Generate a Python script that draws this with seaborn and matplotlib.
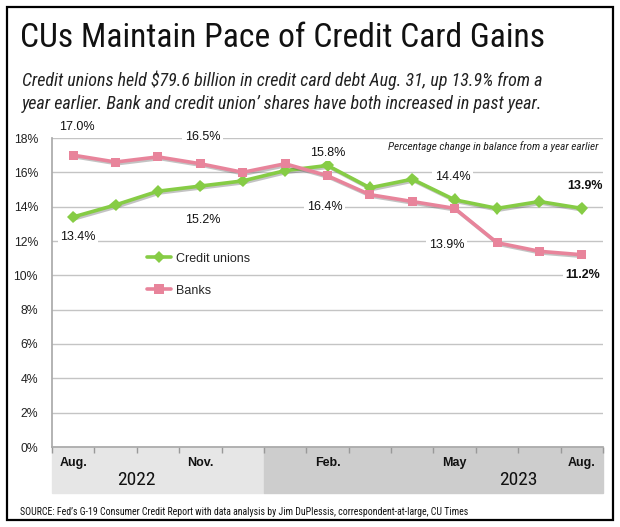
import pandas as pd
import matplotlib.pyplot as plt
import matplotlib.patheffects as pe
from matplotlib import font_manager
from matplotlib.patches import Rectangle
import seaborn as sns

# monthly data, Aug 2022 .. Aug 2023 (% change from a year earlier)
months = ["Aug.", "Sep.", "Oct.", "Nov.", "Dec.", "Jan.", "Feb.", "Mar.",
          "Apr.", "May", "Jun.", "Jul.", "Aug."]
years = ["2022"] * 5 + ["2023"] * 8
credit_unions = [13.4, 14.1, 14.9, 15.2, 15.5, 16.1, 16.4, 15.1, 15.6, 14.4, 13.9, 14.3, 13.9]
banks = [17.0, 16.6, 16.9, 16.5, 16.0, 16.5, 15.8, 14.7, 14.3, 13.9, 11.9, 11.4, 11.2]
shown_ticks = [0, 3, 6, 9, 12]

# labels shown on chart: (series, month index)
labelled = [("Banks", 0), ("Banks", 3), ("Credit unions", 0), ("Credit unions", 3),
            ("Banks", 6), ("Credit unions", 6), ("Credit unions", 9), ("Banks", 9),
            ("Credit unions", 12), ("Banks", 12)]
label_offsets = [(4, 28), (2, 27), (5, -20), (2, -34), (0, 23), (-3, -42),
                 (-2, 23), (-8, -37), (3, 22), (1, -20)]

GREEN = "#86cc45"
PINK = "#e8849b"

sns.set_theme(style="white")
plt.rcParams["font.family"] = ["Liberation Sans", "DejaVu Sans"]

# pick a narrow face if one is installed
names = {f.name for f in font_manager.fontManager.ttflist}
narrow_fam = None
for cand in ["Liberation Sans Narrow", "Roboto Condensed", "Open Sans Condensed",
             "Noto Sans Condensed", "DejaVu Sans Condensed", "Arial Narrow"]:
    if cand in names:
        narrow_fam = cand
        break
narrow = dict(family=[narrow_fam or "Liberation Sans", "DejaVu Sans"], stretch="condensed")

n = len(months)
df = pd.DataFrame({
    "idx": list(range(n)) * 2,
    "value": credit_unions + banks,
    "series": ["Credit unions"] * n + ["Banks"] * n,
})
values = {"Credit unions": credit_unions, "Banks": banks}

W, H = 620, 527
fig = plt.figure(figsize=(W / 100, H / 100), dpi=100)
ax = fig.add_axes([52 / W, (H - 447) / H, (603 - 52) / W, (447 - 138) / H])

shadow = [pe.SimpleLineShadow(offset=(1.2, -1.2), shadow_color="#555555", alpha=0.35), pe.Normal()]
sns.lineplot(data=df, x="idx", y="value", hue="series", style="series",
             palette={"Credit unions": GREEN, "Banks": PINK},
             markers={"Credit unions": "D", "Banks": "s"}, dashes=False,
             markersize=6.5, markeredgewidth=0, linewidth=2.6, ax=ax, zorder=3)
for line in ax.lines:
    line.set_path_effects(shadow)

ax.set_xlim(-0.5, n - 0.5)
ax.set_ylim(0, 18)
ax.set_yticks(range(0, 19, 2))
ax.set_yticklabels([f"{v}%" for v in range(0, 19, 2)], fontsize=8.8)
ax.yaxis.grid(True, color="#c4c4c4", linewidth=1)
ax.set_axisbelow(True)
ax.set_xticks(shown_ticks)
ax.set_xticklabels([months[i] for i in shown_ticks], fontsize=9, fontweight="bold")
ax.set_xticks([i - 0.5 for i in range(n + 1)], minor=True)
ax.tick_params(axis="y", length=0, pad=10, colors="#222222")
ax.tick_params(axis="x", which="major", length=0, pad=7, colors="#111111")
ax.tick_params(axis="x", which="minor", length=4, width=1, color="#999999", direction="out", bottom=True)
for s in ["top", "right"]:
    ax.spines[s].set_visible(False)
ax.spines["left"].set_color("#aaaaaa")
ax.spines["bottom"].set_color("#aaaaaa")
ax.set_xlabel("")
ax.set_ylabel("")

# year bands under the axis
tr = ax.get_xaxis_transform()
band_h = (493 - 447) / (447 - 138)
first_2023 = years.index("2023")
ax.add_patch(Rectangle((-0.5, -band_h), first_2023, band_h, transform=tr,
                       color="#e6e6e6", clip_on=False, zorder=0))
ax.add_patch(Rectangle((first_2023 - 0.5, -band_h), n - first_2023, band_h, transform=tr,
                       color="#cdcdcd", clip_on=False, zorder=0))
year_y = -(480 - 447) / (447 - 138)
ax.text(1.5, year_y, "2022", transform=tr, ha="center", va="center",
        fontsize=14, color="#111111", **narrow)
ax.text(10.5, year_y, "2023", transform=tr, ha="center", va="center",
        fontsize=14, color="#111111", **narrow)

# data labels
for (series, i), (dx, dy) in zip(labelled, label_offsets):
    v = values[series][i]
    bold = i == n - 1
    ax.annotate(f"{v:.1f}%", xy=(i, v), xytext=(dx, dy), textcoords="offset pixels",
                ha="center", va="center", fontsize=9, color="#111111",
                fontweight="bold" if bold else "normal", annotation_clip=False,
                bbox=dict(boxstyle="square,pad=0.2", fc="white", ec="none"), zorder=4)

caption = fig.text(598 / W, (H - 147) / H, "Percentage change in balance from a year earlier",
                   ha="right", va="center", fontsize=8.2, style="italic", color="#222222", **narrow)

handles, labels = ax.get_legend_handles_labels()
leg = ax.legend(handles, labels, loc="center left", bbox_to_anchor=(147 / W, (H - 274.5) / H),
                bbox_transform=fig.transFigure, frameon=False, fontsize=9, borderpad=0,
                borderaxespad=0, handlelength=1.9, handletextpad=0.45, labelspacing=1.6)
for h in leg.legend_handles:
    h.set_path_effects([])

# titles and source
title = fig.text(20 / W, (H - 38) / H, "CUs Maintain Pace of Credit Card Gains", fontsize=33,
                 va="center", ha="left", color="#111111", **narrow)
sub1 = fig.text(22 / W, (H - 80) / H,
                "Credit unions held $79.6 billion in credit card debt Aug. 31, up 13.9% from a",
                fontsize=13, style="italic", va="center", ha="left", color="#222222", **narrow)
sub2 = fig.text(22 / W, (H - 104) / H,
                "year earlier. Bank and credit union\u2019 shares have both increased in past year.",
                fontsize=13, style="italic", va="center", ha="left", color="#222222", **narrow)
source = fig.text(20 / W, (H - 512) / H,
                  "SOURCE: Fed\u2019s G-19 Consumer Credit Report with data analysis by Jim DuPlessis, correspondent-at-large, CU Times",
                  fontsize=7.8, va="center", ha="left", color="#111111", **narrow)

# shrink texts whose face is wider than the original condensed type
renderer = fig.canvas.get_renderer()
for t, target in [(title, 525), (sub1, 568), (sub2, 564), (source, 452), (caption, 210)]:
    w = t.get_window_extent(renderer).width
    if w > target:
        t.set_fontsize(t.get_fontsize() * target / w)
fs = min(sub1.get_fontsize(), sub2.get_fontsize())
sub1.set_fontsize(fs)
sub2.set_fontsize(fs)

fig.patches.append(Rectangle((7 / W, (H - 520) / H), 606 / W, 513 / H, transform=fig.transFigure,
                             fill=False, edgecolor="black", linewidth=1.6))

fig.savefig("out.png", dpi=100)
